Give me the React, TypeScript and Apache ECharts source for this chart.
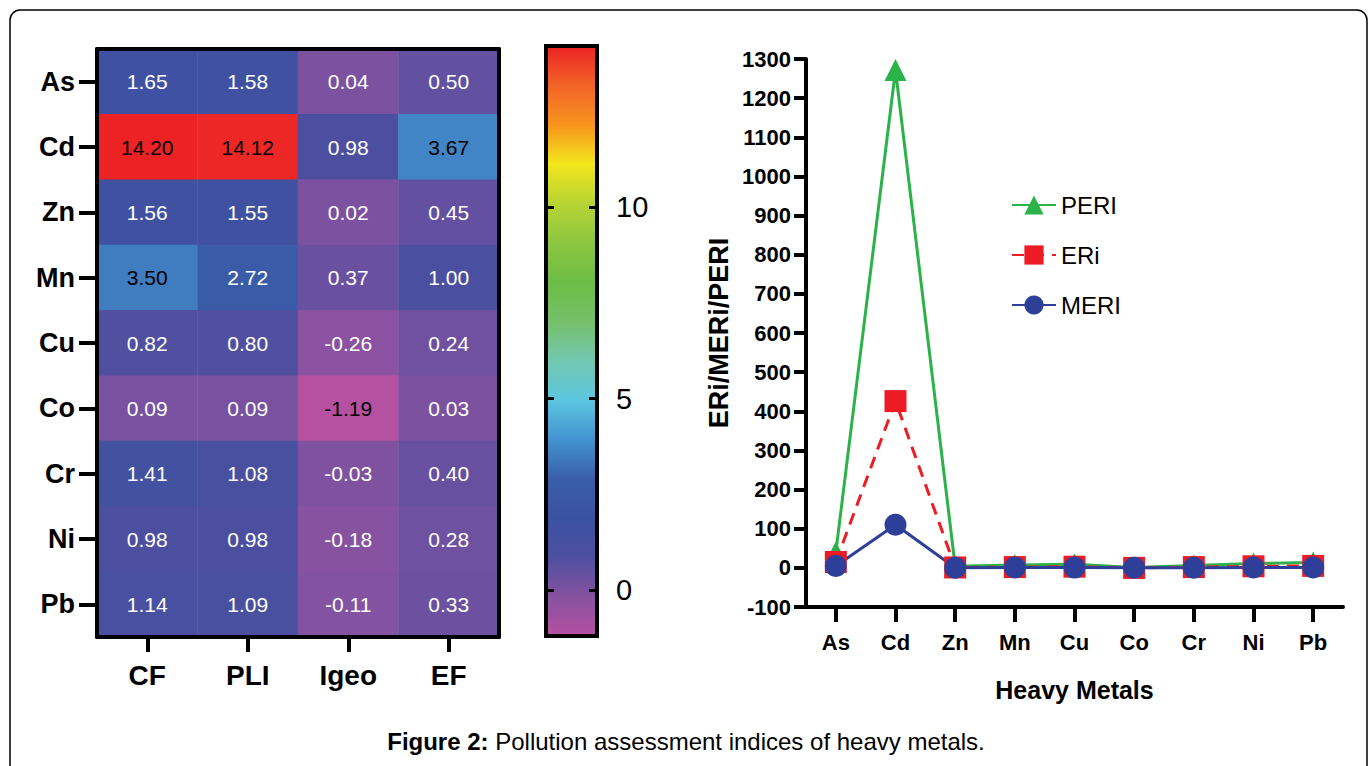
import React, { useEffect, useRef } from "react";
import * as echarts from "echarts";

const metals = ["As", "Cd", "Zn", "Mn", "Cu", "Co", "Cr", "Ni", "Pb"];
const indices = ["CF", "PLI", "Igeo", "EF"];
const cfValues = [1.65, 14.2, 1.56, 3.5, 0.82, 0.09, 1.41, 0.98, 1.14];
const pliValues = [1.58, 14.12, 1.55, 2.72, 0.8, 0.09, 1.08, 0.98, 1.09];
const igeoValues = [0.04, 0.98, 0.02, 0.37, -0.26, -1.19, -0.03, -0.18, -0.11];
const efValues = [0.5, 3.67, 0.45, 1.0, 0.24, 0.03, 0.4, 0.28, 0.33];
const colorbarTicks = [0, 5, 10];

const periValues = [40, 1272, 4, 7, 9, 1, 6, 11, 14];
const eriValues = [15, 426, 1, 2, 3, 0, 2, 4, 5];
const meriValues = [5, 110, 0.5, 0.8, 0.6, 0.2, 0.4, 0.8, 1];
const yTickMin = -100;
const yTickMax = 1300;
const yTickStep = 100;

const palette = [
  "#b650a0", "#8652a0", "#4e4fa0", "#3a52a2", "#3a5ea9", "#4393d1",
  "#5cc6e0", "#72c8b0", "#76c06a", "#6cbd45", "#8cc63f", "#b8d434",
  "#f2e61c", "#f7941d", "#f26327", "#ec2225",
];

const FONT = "'Liberation Sans', Arial, Helvetica, sans-serif";

export default function App() {
  const ref = useRef<HTMLDivElement>(null);
  useEffect(() => {
    if (!ref.current) return;
    const chart = echarts.init(ref.current, null, { renderer: "svg" });
    const columns = [cfValues, pliValues, igeoValues, efValues];
    const all = columns.flat();
    const vmin = Math.min(...all);
    const vmax = Math.max(...all);
    const heatData: any[] = [];
    columns.forEach((col, xi) => {
      col.forEach((v, yi) => {
        heatData.push({
          value: [xi, yi, v],
          label: { color: v > 3 || v < -1 ? "#000" : "#fff" },
        });
      });
    });

    const catAxisBase = {
      axisLine: { show: true, lineStyle: { color: "#000", width: 4 } },
      splitLine: { show: false },
      z: 10,
    };

    const option: any = {
      animation: false,
      backgroundColor: "#fff",
      grid: [
        { left: 97, top: 49, width: 402, height: 588 },
        { left: 546, top: 46, width: 51, height: 590 },
        { left: 806, top: 59, width: 537, height: 548 },
      ],
      xAxis: [
        {
          ...catAxisBase,
          gridIndex: 0,
          type: "category",
          data: indices,
          position: "bottom",
          axisTick: { show: true, alignWithLabel: true, length: 15, lineStyle: { color: "#000", width: 4 } },
          axisLabel: { margin: 24, fontSize: 28, fontWeight: "bold", color: "#000", fontFamily: FONT },
        },
        {
          ...catAxisBase,
          gridIndex: 0,
          type: "category",
          data: indices,
          position: "top",
          axisTick: { show: false },
          axisLabel: { show: false },
        },
        {
          gridIndex: 1,
          type: "value",
          show: false,
        },
        {
          gridIndex: 2,
          type: "category",
          data: metals,
          position: "bottom",
          axisLine: { show: true, onZero: false, lineStyle: { color: "#000", width: 4 } },
          axisTick: { show: true, alignWithLabel: true, length: 15, lineStyle: { color: "#000", width: 4 } },
          axisLabel: { margin: 24, fontSize: 22, fontWeight: "bold", color: "#000", fontFamily: FONT },
          name: "Heavy Metals",
          nameLocation: "middle",
          nameGap: 70,
          nameTextStyle: { fontSize: 25, fontWeight: "bold", color: "#000", fontFamily: FONT },
          z: 10,
        },
      ],
      yAxis: [
        {
          ...catAxisBase,
          gridIndex: 0,
          type: "category",
          data: metals,
          inverse: true,
          position: "left",
          axisTick: { show: true, alignWithLabel: true, length: 18, lineStyle: { color: "#000", width: 4 } },
          axisLabel: { margin: 22, fontSize: 27, fontWeight: "bold", color: "#000", fontFamily: FONT },
        },
        {
          ...catAxisBase,
          gridIndex: 0,
          type: "category",
          data: metals,
          inverse: true,
          position: "right",
          axisTick: { show: false },
          axisLabel: { show: false },
        },
        {
          gridIndex: 1,
          type: "value",
          min: vmin,
          max: vmax,
          position: "left",
          axisLine: { show: false },
          splitLine: { show: false },
          axisTick: { show: true, inside: true, length: 8, customValues: colorbarTicks, lineStyle: { color: "#000", width: 3 } },
          axisLabel: { show: false },
          z: 10,
        },
        {
          gridIndex: 1,
          type: "value",
          min: vmin,
          max: vmax,
          position: "right",
          axisLine: { show: false },
          splitLine: { show: false },
          axisTick: { show: true, inside: true, length: 8, customValues: colorbarTicks, lineStyle: { color: "#000", width: 3 } },
          axisLabel: { show: true, margin: 19, customValues: colorbarTicks, fontSize: 29, color: "#000", fontFamily: FONT },
          z: 10,
        },
        {
          gridIndex: 2,
          type: "value",
          min: yTickMin,
          max: yTickMax,
          interval: yTickStep,
          position: "left",
          axisLine: { show: true, lineStyle: { color: "#000", width: 4 } },
          splitLine: { show: false },
          axisTick: { show: true, length: 12, lineStyle: { color: "#000", width: 4 } },
          axisLabel: {
            margin: 15,
            fontSize: 22,
            fontWeight: "bold",
            color: "#000",
            fontFamily: FONT,
            formatter: (v: number) => String(v),
          },
          name: "ERi/MERi/PERI",
          nameLocation: "middle",
          nameGap: 74,
          nameRotate: 90,
          nameTextStyle: { fontSize: 27, fontWeight: "bold", color: "#000", fontFamily: FONT },
          z: 10,
        },
      ],
      visualMap: {
        show: false,
        type: "continuous",
        min: vmin,
        max: vmax,
        dimension: 2,
        seriesIndex: 0,
        inRange: { color: palette },
      },
      legend: {
        data: ["PERI", "ERi", "MERI"],
        orient: "vertical",
        left: 1006,
        top: 188,
        itemWidth: 44,
        itemHeight: 24,
        itemGap: 26,
        textStyle: { fontSize: 24, color: "#000", fontFamily: FONT },
      },
      series: [
        {
          type: "heatmap",
          xAxisIndex: 0,
          yAxisIndex: 0,
          data: heatData,
          label: {
            show: true,
            fontSize: 21,
            fontFamily: FONT,
            formatter: (p: any) => p.value[2].toFixed(2),
          },
          itemStyle: { borderWidth: 0 },
          emphasis: { disabled: true },
        },
        {
          name: "PERI",
          type: "line",
          xAxisIndex: 3,
          yAxisIndex: 4,
          data: periValues,
          symbol: "triangle",
          symbolSize: 22,
          color: "#2bb34a",
          lineStyle: { width: 3, color: "#2bb34a" },
          itemStyle: { color: "#2bb34a" },
        },
        {
          name: "ERi",
          type: "line",
          xAxisIndex: 3,
          yAxisIndex: 4,
          data: eriValues,
          symbol: "rect",
          symbolSize: 22,
          color: "#ed1c24",
          lineStyle: { width: 3, color: "#ed1c24", type: [12, 8] },
          itemStyle: { color: "#ed1c24" },
        },
        {
          name: "MERI",
          type: "line",
          xAxisIndex: 3,
          yAxisIndex: 4,
          data: meriValues,
          symbol: "circle",
          symbolSize: 22,
          color: "#2e3f99",
          lineStyle: { width: 3, color: "#2e3f99" },
          itemStyle: { color: "#2e3f99" },
        },
      ],
      graphic: [
        {
          type: "rect",
          z: 1,
          shape: { x: 10, y: 10, width: 1357, height: 800, r: 10 },
          style: { fill: "none", stroke: "#000", lineWidth: 1.5 },
          silent: true,
        },
        {
          type: "rect",
          z: 1,
          shape: { x: 546, y: 46, width: 51, height: 590 },
          style: {
            fill: {
              type: "linear",
              x: 0,
              y: 1,
              x2: 0,
              y2: 0,
              colorStops: palette.map((c, i) => ({ offset: i / (palette.length - 1), color: c })),
            },
            stroke: "#000",
            lineWidth: 4,
          },
          silent: true,
        },
        {
          type: "text",
          x: 686,
          y: 741,
          style: {
            text: "{b|Figure 2:} Pollution assessment indices of heavy metals.",
            align: "center",
            verticalAlign: "middle",
            fontSize: 24,
            fontFamily: FONT,
            fill: "#000",
            rich: { b: { fontWeight: "bold", fontSize: 24, fontFamily: FONT } },
          },
        },
      ],
    };
    chart.setOption(option);
    return () => chart.dispose();
  }, []);
  return (
    <div
      ref={ref}
      style={{ position: "fixed", left: 0, top: 0, width: 1371, height: 766, background: "#fff" }}
    />
  );
}
